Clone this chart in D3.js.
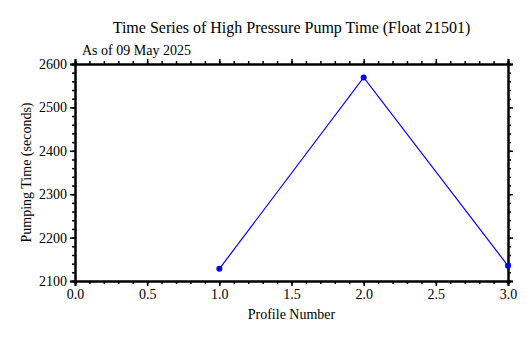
<!DOCTYPE html>
<html><head><meta charset="utf-8">
<script src="https://cdn.jsdelivr.net/npm/d3@7"></script>
<style>
body{margin:0;background:#fff;}
svg text{font-family:"Times New Roman","Liberation Serif",Times,serif !important;fill:#000;}
</style></head>
<body>
<svg id="c" width="532" height="338"></svg>
<script>
const profiles = [1, 2, 3];
const pumpTime = [2128, 2569, 2135];
const xTicks = [0, 0.5, 1.0, 1.5, 2.0, 2.5, 3.0];
const yTicks = [2100, 2200, 2300, 2400, 2500, 2600];
const titleText = "Time Series of High Pressure Pump Time (Float 21501)";
const subtitleText = "As of 09 May 2025";
const xLabel = "Profile Number";
const yLabel = "Pumping Time (seconds)";

const FONT = '"Times New Roman","Liberation Serif",Times,serif';
const svg = d3.select("#c");
const m = {l:75, r:508, t:64, b:281};
const x = d3.scaleLinear().domain([0,3]).range([m.l, m.r]);
const y = d3.scaleLinear().domain([2100,2600]).range([m.b, m.t]);

svg.append("rect").attr("width",532).attr("height",338).attr("fill","#fff");

const xMinor = d3.range(0, 3.0001, 0.1);
const yMinor = d3.range(2100, 2600.001, 20);

function styleAxis(g){
  g.attr("font-family", FONT);
  g.selectAll(".domain").attr("stroke","#000").attr("stroke-width",2);
  g.selectAll(".tick line").attr("stroke","#000").attr("stroke-width",1.5);
  g.selectAll("text").attr("font-family",FONT).attr("font-size","14px").attr("fill","#000");
}
// bottom
const gb = svg.append("g").attr("transform",`translate(0,${m.b})`);
gb.call(d3.axisBottom(x).tickValues(xMinor).tickSize(3).tickFormat("")).call(styleAxis);
gb.append("g").call(d3.axisBottom(x).tickValues(xTicks).tickSize(5).tickPadding(3).tickFormat(d3.format(".1f"))).call(styleAxis);
// top
const gt = svg.append("g").attr("transform",`translate(0,${m.t})`);
gt.call(d3.axisTop(x).tickValues(xMinor).tickSize(3).tickFormat("")).call(styleAxis);
gt.append("g").call(d3.axisTop(x).tickValues(xTicks).tickSize(5).tickFormat("")).call(styleAxis);
// left
const gl = svg.append("g").attr("transform",`translate(${m.l},0)`);
gl.call(d3.axisLeft(y).tickValues(yMinor).tickSize(3).tickFormat("")).call(styleAxis);
gl.append("g").call(d3.axisLeft(y).tickValues(yTicks).tickSize(5).tickPadding(3).tickFormat(d3.format("d"))).call(styleAxis);
// right
const gr = svg.append("g").attr("transform",`translate(${m.r},0)`);
gr.call(d3.axisRight(y).tickValues(yMinor).tickSize(3).tickFormat("")).call(styleAxis);
gr.append("g").call(d3.axisRight(y).tickValues(yTicks).tickSize(5).tickFormat("")).call(styleAxis);

const data = profiles.map((p,i)=>({p, v:pumpTime[i]}));
svg.append("path").datum(data)
  .attr("d", d3.line().x(d=>x(d.p)).y(d=>y(d.v)))
  .attr("fill","none").attr("stroke","#0000ff").attr("stroke-width",1.2);
svg.selectAll("circle.pt").data(data).enter().append("circle")
  .attr("cx",d=>x(d.p)).attr("cy",d=>y(d.v)).attr("r",3).attr("fill","#0000ff");

svg.append("text").attr("x",(m.l+m.r)/2).attr("y",33).attr("text-anchor","middle")
  .attr("font-family",FONT).attr("font-size","16px").text(titleText);
svg.append("text").attr("x",82).attr("y",55).attr("font-family",FONT).attr("font-size","14px").text(subtitleText);
svg.append("text").attr("x",(m.l+m.r)/2).attr("y",319).attr("text-anchor","middle")
  .attr("font-family",FONT).attr("font-size","14px").text(xLabel);
svg.append("text").attr("transform",`translate(31,${(m.t+m.b)/2}) rotate(-90)`).attr("text-anchor","middle")
  .attr("font-family",FONT).attr("font-size","14px").text(yLabel);
</script>
</body></html>
